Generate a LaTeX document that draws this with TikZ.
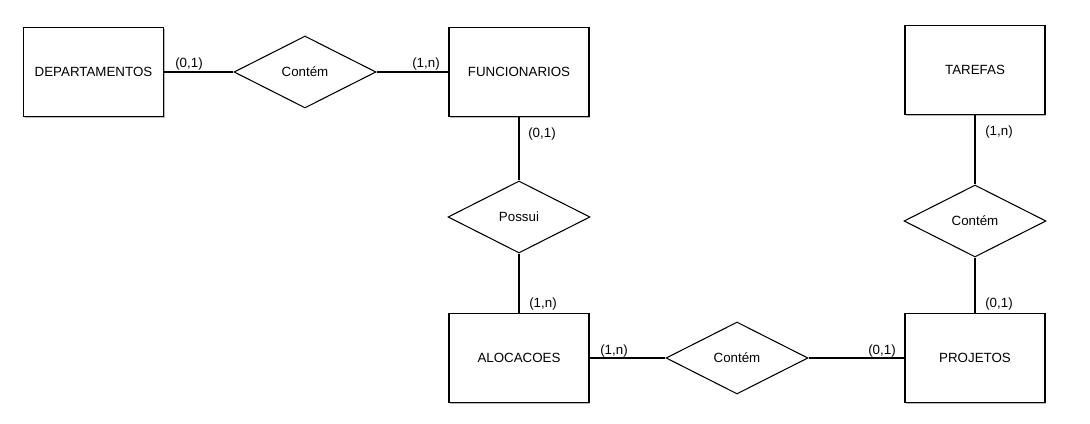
\documentclass[tikz,border=0pt]{standalone}
\usepackage{fontspec}
\setmainfont{Liberation Sans}
\usetikzlibrary{shapes.geometric,shadows}
\tikzset{
	entidade/.style={draw, line width=0.8pt, fill=white, minimum width=105pt, minimum height=66.75pt,
		drop shadow={shadow xshift=1.1pt, shadow yshift=-1.1pt, fill=gray!55, opacity=1}},
	relac/.style={draw, diamond, aspect=2, line width=0.8pt, fill=white, inner sep=0pt,
		minimum width=106.5pt, minimum height=54pt},
	linha/.style={line width=0.8pt},
	card/.style={inner sep=0pt, font=\fontsize{10}{12}\selectfont}
}
\newcommand{\card}[3]{
	\node[card] (#1) at (#2) {#3};
}

\begin{document}
\begin{tikzpicture}[x=0.75pt,y=-0.75pt, font=\fontsize{10}{12}\selectfont]
	\useasboundingbox (0,0) rectangle (1090,424);
	
	\foreach \nome/\pos/\texto in {dep/{93.5,72}/DEPARTAMENTOS, func/{519,72}/FUNCIONARIOS,
		tar/{975,70}/TAREFAS, aloc/{519,358}/ALOCACOES, proj/{975,358}/PROJETOS} {
		\node[entidade] (\nome) at (\pos) {\texto};
	}
	
	\node[relac] (c1) at (305,72) {Contém};
	\node[relac] (possui) at (519,217) {Possui};
	\node[relac] (c2) at (975,221) {Contém};
	\node[relac] (c3) at (737,358) {Contém};
	
	\foreach \a/\b in {dep/c1, c1/func, func/possui, possui/aloc, aloc/c3, c3/proj, tar/c2, c2/proj} {
		\draw[linha] (\a) -- (\b);
	}
	
	\card{k1}{189,64}{(0,1)}
	\card{k2}{426,64}{(1,n)}
	\card{k3}{542,134}{(0,1)}
	\card{k4}{543,304}{(1,n)}
	\card{k5}{614,351}{(1,n)}
	\card{k6}{882,351}{(0,1)}
	\card{k7}{999,132}{(1,n)}
	\card{k8}{999,304}{(0,1)}
\end{tikzpicture}
\end{document}
